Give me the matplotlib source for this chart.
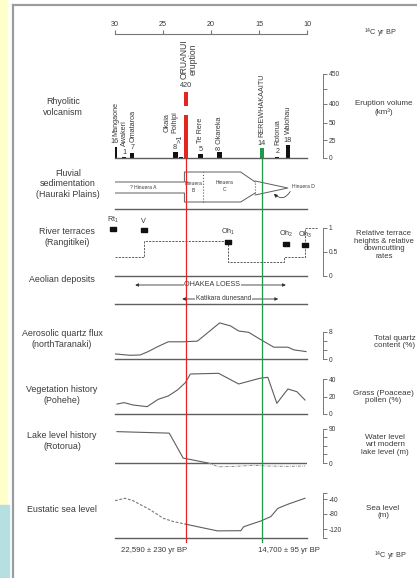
import matplotlib
matplotlib.use("Agg")
import matplotlib.pyplot as plt
import numpy as np
from matplotlib.patches import Rectangle
from matplotlib.lines import Line2D

plt.rcParams['font.family'] = ['Liberation Sans', 'DejaVu Sans']
plt.rcParams['mathtext.fontset'] = 'custom'
plt.rcParams['mathtext.rm'] = 'Liberation Sans'
plt.rcParams['mathtext.it'] = 'Liberation Sans:italic'

# ---- data (ages in 14C ka BP) ----
scale_ticks = [30, 25, 20, 15, 10]

eruptions = ['Mangaone', 'Awakeri', 'Omataroa', 'Okaia', 'Poihipi', 'ORUANUI',
             'Te Rere', 'Okareka', 'REREWHAKAAITU', 'Rotorua', 'Waiohau']
erupt_age = [30.0, 29.05, 28.2, 23.7, 23.1, 22.59, 21.1, 19.1, 14.7, 13.1, 12.0]
erupt_vol = [16, 1, 7, 8, 1.5, 420, 5, 8, 14, 2, 18]
vol_labels = ['16', '1', '7', '8', '>1', '420', '5', '8', '14', '2', '18']

oruanui_age = 22.59
rere_age = 14.7

fluv_age = [15.4, 16.91, 22.77, 22.77, 30.2, 30.2, 22.77, 22.77, 16.91, 15.4]
fluv_lvl = [16, 7, 7, 16, 16, 27, 27, 37, 37, 27]
fluvD_age = [15.4, 12.0, 15.4]
fluvD_lvl = [28, 21, 14]
fluv_bc_age = 20.79

terr_step_age = [30.0, 27.0, 18.2, 12.4, 10.2, 9.0]
terr_step_val = [0.40, 0.73, 0.29, 0.40, 1.0, 1.0]
terr_names = ['Rt$_1$', 'V', 'Oh$_1$', 'Oh$_2$', 'Oh$_3$']
terr_age = [30.2, 27.0, 18.2, 12.2, 10.2]
terr_height = [0.98, 0.96, 0.71, 0.67, 0.65]

loess_span = (27.9, 12.2)
dune_span = (23.0, 13.0)

qz_age = [30.0, 28.43, 27.38, 26.54, 25.6, 24.45, 22.88, 21.41, 19.1, 17.96,
          17.12, 16.07, 15.03, 13.46, 11.99, 11.36, 10.1]
qz_val = [1.5, 1.1, 1.2, 2.2, 3.6, 5.1, 5.1, 5.3, 10.7, 9.8, 8.3, 7.9, 6.1,
          3.5, 3.5, 2.7, 2.2]

veg_age = [29.79, 29.06, 28.12, 26.65, 25.5, 24.45, 23.5, 22.67, 22.15, 19.21,
           17.12, 14.92, 14.08, 13.14, 11.99, 11.05, 10.21]
veg_val = [11.4, 13, 10.3, 8.4, 16.8, 20.6, 27.4, 35.8, 45.7, 46.5, 34.3, 40.8,
           41.9, 12.2, 28.6, 25.5, 16]

lake_age = [29.8, 24.35, 22.9, 21.5, 20.3]
lake_val = [83, 79, 13, 6, 0]
lake2_age = [20.3, 19.2, 17.6, 15.5, 14.1, 12.0, 10.2]
lake2_val = [0, -10, -9, -6, -8, -9, -8]

sea_dash_age = [30.0, 28.95, 28.12, 26.33, 24.97, 23.93, 22.67]
sea_dash_val = [-44.5, -38, -44.5, -69, -91.5, -100, -107]
sea_age = [22.67, 21.1, 19.32, 16.9, 16.6, 14.82, 13.77, 13.04, 11.99, 10.21]
sea_val = [-107, -115.5, -125, -124.5, -114, -98.7, -87, -65, -54, -38]

# ---- figure ----
W, H, DPI = 417, 578, 100
fig = plt.figure(figsize=(W / DPI, H / DPI), dpi=DPI)
fig.patch.set_facecolor('white')

TXT = '#3a3a3a'
LN = '#5e5e5e'
RED = '#e3261f'
GREEN = '#1e9a4a'
X0, X1 = 115, 307
SPINE_OUT = (323 - X1) * 72 / DPI
LEFT_FS = 6.4
RIGHT_FS = 5.8


def box(y0, y1, x0=X0, x1=X1):
    return [x0 / W, 1 - y1 / H, (x1 - x0) / W, (y1 - y0) / H]


def ftext(x, y, s, **kw):
    kw.setdefault('color', TXT)
    kw.setdefault('fontsize', RIGHT_FS)
    kw.setdefault('ha', 'center')
    kw.setdefault('va', 'center')
    kw.setdefault('linespacing', 1.15)
    fig.text(x / W, 1 - y / H, s, **kw)


def panel(y0, y1, ylim, baseline=True):
    ax = fig.add_axes(box(y0, y1))
    ax.patch.set_visible(False)
    ax.set_xlim(30, 10)
    ax.set_ylim(*ylim)
    for s in ['left', 'top', 'right']:
        ax.spines[s].set_visible(False)
    ax.spines['bottom'].set_visible(baseline)
    ax.spines['bottom'].set_color(LN)
    ax.spines['bottom'].set_linewidth(1.0)
    ax.set_xticks([])
    ax.set_yticks([])
    return ax


def right_axis(ax, lo, hi, ticks, labels):
    sp = ax.spines['right']
    sp.set_visible(True)
    sp.set_position(('outward', SPINE_OUT))
    sp.set_bounds(lo, hi)
    sp.set_color('#777777')
    sp.set_linewidth(0.7)
    ax.yaxis.set_ticks_position('right')
    ax.set_yticks(ticks)
    ax.set_yticklabels(labels)
    ax.tick_params(axis='y', direction='out', length=2.8, width=0.7,
                   color='#777777', labelsize=4.8, labelcolor=TXT, pad=1.5)


# background strips and frame
fig.patches.append(Rectangle((0, 1 - 505 / H), 7 / W, 505 / H,
                             transform=fig.transFigure, color='#ffffcc', zorder=0))
fig.patches.append(Rectangle((0, 0), 9 / W, 1 - 505 / H,
                             transform=fig.transFigure, color='#b6dfe2', zorder=0))
fig.lines.append(Line2D([12.5 / W, 12.5 / W], [0, 1 - 5 / H], transform=fig.transFigure,
                        color='#9c9c9c', lw=1.6))
fig.lines.append(Line2D([12.5 / W, 1], [1 - 5 / H, 1 - 5 / H], transform=fig.transFigure,
                        color='#9c9c9c', lw=1.6))

# ---- top scale ----
axs = fig.add_axes(box(29, 34))
axs.patch.set_visible(False)
axs.set_xlim(30, 10)
for s in ['left', 'top', 'right']:
    axs.spines[s].set_visible(False)
axs.spines['bottom'].set_color('#777777')
axs.spines['bottom'].set_linewidth(0.8)
axs.set_yticks([])
axs.set_xticks(scale_ticks)
axs.set_xticklabels([str(t) for t in scale_ticks])
axs.tick_params(axis='x', direction='in', length=3, width=0.8, color='#777777',
                labelbottom=False, labeltop=True, top=False, labelsize=5.2,
                labelcolor=TXT, pad=1)
ftext(380, 33, r'$^{14}$C yr BP', fontsize=5.2)


# ---- rhyolitic volcanism (broken volume scale) ----
def vol_fwd(v):
    v = np.asarray(v, float)
    return np.where(v <= 50, v * 0.7,
                    np.where(v < 400, 35 + (v - 50) * 19 / 350, 54 + (v - 400) * 0.6))


def vol_inv(p):
    p = np.asarray(p, float)
    return np.where(p <= 35, p / 0.7,
                    np.where(p < 54, 50 + (p - 35) * 350 / 19, 400 + (p - 54) / 0.6))


BREAK = (200, 360)
axv = panel(60, 158, (0, 1))
axv.set_yscale('function', functions=(vol_fwd, vol_inv))
axv.set_ylim(0, 473)
for name, age, vol, lab in zip(eruptions, erupt_age, erupt_vol, vol_labels):
    col = RED if name == 'ORUANUI' else GREEN if name == 'REREWHAKAAITU' else '#111111'
    if vol > BREAK[1]:
        axv.bar(age, BREAK[0], width=0.45, color=col, lw=0)
        axv.bar(age, vol - BREAK[1], bottom=BREAK[1], width=0.45, color=col, lw=0)
    else:
        axv.bar(age, vol, width=0.45, color=col, lw=0)
right_axis(axv, 0, 450, [0, 25, 50, 400, 425, 450], ['0', '25', '50', '400', '', '450'])
axv.plot([1.083, 1.083], BREAK, transform=axv.get_yaxis_transform(), color='white',
         lw=2, clip_on=False)

small = dict(fontsize=5.2, color=TXT, textcoords='offset points', annotation_clip=False)
for name, age, vol, lab in zip(eruptions, erupt_age, erupt_vol, vol_labels):
    if name in ('Okaia', 'Poihipi', 'Okareka', 'ORUANUI'):
        continue
    axv.annotate(lab, (age, vol), xytext=(0, 1.2), ha='center', va='bottom', **small)
    axv.annotate(name, (age, vol), xytext=(0.3, 8.0), ha='center', va='bottom',
                 rotation=90, **small)
i_ok, i_po, i_ore, i_oru = (eruptions.index(n) for n in ('Okaia', 'Poihipi', 'Okareka', 'ORUANUI'))
axv.annotate(vol_labels[i_ok], (erupt_age[i_ok], erupt_vol[i_ok]), xytext=(-0.5, 1.2),
             ha='center', va='bottom', **small)
axv.annotate(vol_labels[i_po], (erupt_age[i_po], erupt_vol[i_po]), xytext=(-0.6, 10),
             ha='center', va='bottom', rotation=90, **small)
axv.annotate(eruptions[i_ok] + '\n' + eruptions[i_po], (erupt_age[i_ok], erupt_vol[i_ok]),
             xytext=(-3.4, 14), ha='center', va='bottom', rotation=90, **small)
axv.annotate(vol_labels[i_ore] + ' ' + eruptions[i_ore], (erupt_age[i_ore], erupt_vol[i_ore]),
             xytext=(0, 1.5), ha='center', va='bottom', rotation=90, **small)
axv.annotate(vol_labels[i_oru], (erupt_age[i_oru], erupt_vol[i_oru]), xytext=(0, 2),
             ha='center', va='bottom', **small)
axv.annotate(eruptions[i_oru] + '\neruption', (erupt_age[i_oru], erupt_vol[i_oru]),
             xytext=(1.8, 9), ha='center', va='bottom', rotation=90,
             fontsize=6.2, color=TXT, textcoords='offset points', annotation_clip=False,
             linespacing=1.05)

ftext(63, 107, 'Rhyolitic\nvolcanism', fontsize=LEFT_FS)
ftext(384, 108, 'Eruption volume\n(km³)')

# ---- fluvial sedimentation ----
axf = panel(158, 209, (0, 51))
axf.plot(fluv_age, fluv_lvl, color=LN, lw=0.7)
axf.plot(fluvD_age, fluvD_lvl, color=LN, lw=0.7)
axf.plot([fluv_bc_age, fluv_bc_age], [fluv_lvl[1], fluv_lvl[7]], color=LN, lw=0.8, ls=':')
axf.plot([fluv_age[0], fluv_age[0]], [fluv_lvl[0], fluv_lvl[-1]], color=LN, lw=0.8, ls=':')
tiny = dict(fontsize=3.6, color=TXT, ha='center', va='center', linespacing=1.3)
axf.text(27.1, 21.5, '? Hinuera A', **tiny)
axf.text(21.8, 22, 'Hinuera\nB', **tiny)
axf.text(18.6, 23, 'Hinuera\nC', **tiny)
axf.text(10.4, 22, 'Hinuera D', clip_on=False, **tiny)
axf.annotate('', xy=(13.66, 17), xytext=(11.6, 20),
             arrowprops=dict(arrowstyle='-|>', connectionstyle='arc3,rad=-0.7',
                             lw=0.5, color='#222222', mutation_scale=5))
ftext(68, 184, 'Fluvial\nsedimentation\n(Hauraki Plains)', fontsize=LEFT_FS)

# ---- river terraces ----
axr = panel(209, 276, (0, 67 / 48))
axr.step(terr_step_age, terr_step_val, where='post', color=LN, lw=0.7,
         dashes=(2.2, 1.2), clip_on=False)
rect = [(-1, -0.6), (1, -0.6), (1, 0.6), (-1, 0.6), (-1, -0.6)]
axr.plot(terr_age, terr_height, ls='none', marker=rect, ms=5, color='#111111',
         clip_on=False)
for nm, a, h in zip(terr_names, terr_age, terr_height):
    axr.annotate(nm, (a, h), xytext=(0, 3.2), ha='center', va='bottom', **small)
right_axis(axr, 0, 1, [0, 0.5, 1], ['0', '0.5', '1'])
ftext(67, 237, 'River terraces\n(Rangitikei)', fontsize=LEFT_FS)
ftext(384, 245, 'Relative terrace\nheights & relative\ndowncutting\nrates', fontsize=5.6)

# ---- aeolian deposits ----
axa = panel(276, 304, (0, 28))
arr = dict(arrowstyle='<|-|>', lw=0.6, color='#333333', mutation_scale=4.5,
           shrinkA=0, shrinkB=0)
axa.annotate('', xy=(loess_span[0], 19), xytext=(loess_span[1], 19), arrowprops=arr)
axa.annotate('', xy=(dune_span[0], 5), xytext=(dune_span[1], 5), arrowprops=arr)
bb = dict(facecolor='white', edgecolor='none', pad=0.6)
axa.text(19.85, 19, 'OHAKEA LOESS', fontsize=5.2, color=TXT, ha='center', va='center', bbox=bb)
axa.text(18.7, 5, 'Katikara dunesand', fontsize=4.8, color=TXT, ha='center', va='center', bbox=bb)
ftext(62, 280, 'Aeolian deposits', fontsize=LEFT_FS)

# ---- aerosolic quartz flux ----
axq = panel(304, 359, (0, 55 / 3.375))
axq.plot(qz_age, qz_val, color=LN, lw=0.8)
right_axis(axq, 0, 8, [0, 2.67, 5.33, 8], ['0', '', '', '8'])
ftext(62, 339, 'Aerosolic quartz flux\n(northTaranaki)', fontsize=LEFT_FS)
ftext(395, 342, 'Total quartz\ncontent (%)')

# ---- vegetation history ----
axg = panel(359, 414, (0, 55 / 0.875))
axg.plot(veg_age, veg_val, color=LN, lw=0.8)
right_axis(axg, 0, 40, [0, 20, 40], ['0', '20', '40'])
ftext(62, 395, 'Vegetation history\n(Pohehe)', fontsize=LEFT_FS)
ftext(383, 397, 'Grass (Poaceae)\npollen (%)')

# ---- lake level ----
axl = panel(414, 475, (-12 / 0.378, 49 / 0.378), baseline=False)
axl.axhline(0, color=LN, lw=1.0)
axl.plot(lake_age, lake_val, color=LN, lw=0.8)
axl.plot(lake2_age, lake2_val, color='#888888', lw=0.7, dashes=(3, 1.2, 0.8, 1.2))
right_axis(axl, 0, 90, [0, 22.5, 45, 67.5, 90], ['0', '', '', '', '90'])
ftext(62, 441, 'Lake level history\n(Rotorua)', fontsize=LEFT_FS)
ftext(385, 445, 'Water level\nwrt modern\nlake level (m)')

# ---- eustatic sea level ----
axe = panel(475, 538, (-144, 24))
axe.plot(sea_dash_age, sea_dash_val, color='#777777', lw=0.8, dashes=(2.5, 1.5))
axe.plot(sea_age, sea_val, color=LN, lw=0.8)
right_axis(axe, -144, -24, [-144, -120, -80, -40, -24], ['', '-120', '-80', '-40', ''])
ftext(62, 509, 'Eustatic sea level', fontsize=LEFT_FS)
ftext(383, 512, 'Sea level\n(m)')

# ---- marker lines for the two dated eruptions ----
axm = fig.add_axes(box(158, 543))
axm.set_xlim(30, 10)
axm.axis('off')
axm.axvline(oruanui_age, color=RED, lw=0.9)
axm.axvline(rere_age, color=GREEN, lw=0.9)

ftext(187, 550, '22,590 ± 230 yr BP', ha='right', fontsize=5.6)
ftext(258, 550, '14,700 ± 95 yr BP', ha='left', fontsize=5.6)
ftext(390, 556, r'$^{14}$C yr BP', fontsize=5.2)

fig.savefig('out.png', dpi=DPI)
